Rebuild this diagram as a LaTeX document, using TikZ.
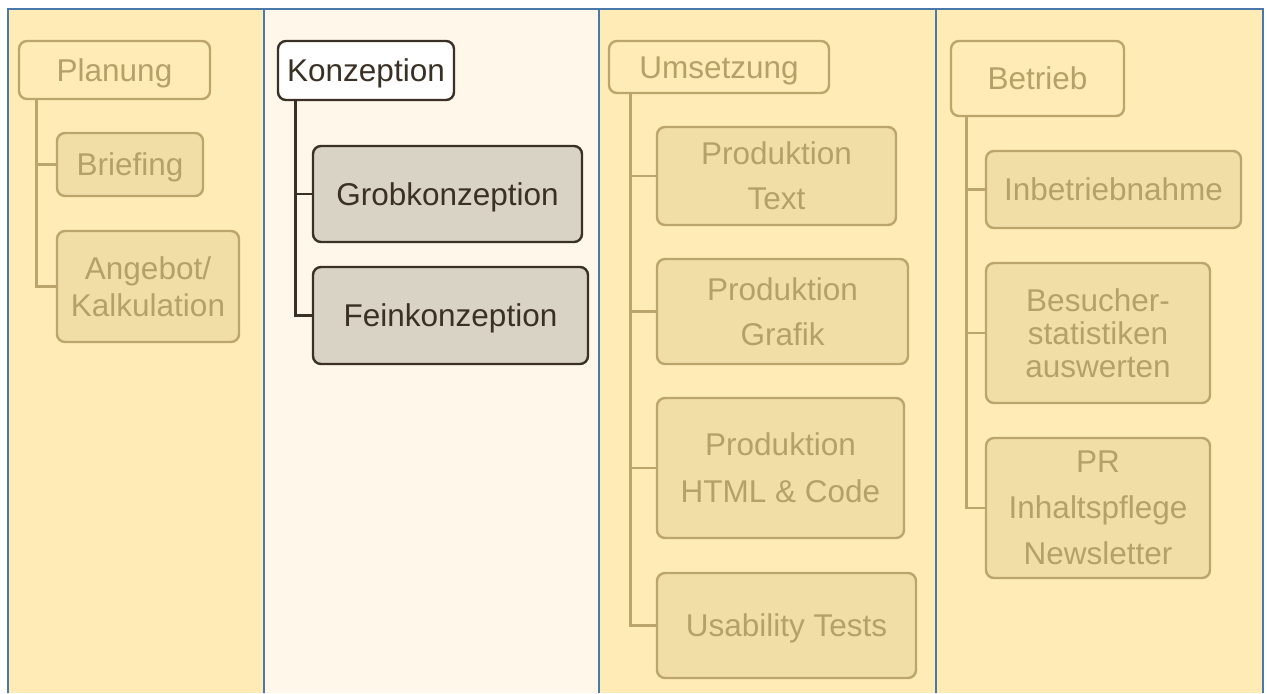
\documentclass[tikz,border=0pt]{standalone}
\usepackage{fontspec}
\setmainfont{Liberation Sans}
\usetikzlibrary{positioning}

\definecolor{colbg}{HTML}{FFEBB5}
\definecolor{colact}{HTML}{FFF8EA}
\definecolor{frameblue}{HTML}{4A78AA}
\definecolor{fadefill}{HTML}{F1DEA7}
\definecolor{fadeline}{HTML}{BBA56C}
\definecolor{fadetext}{HTML}{B5A06A}
\definecolor{darkline}{HTML}{3A3124}
\definecolor{actfill}{HTML}{D9D3C6}

\begin{document}
\begin{tikzpicture}[x=0.5pt, y=-0.5pt,
        phase/.style={draw=fadeline, line width=1.2pt, rounded corners=4pt, text=fadetext, inner sep=0pt, align=center},
        task/.style={phase, fill=fadefill},
        active/.style={draw=darkline, line width=1.2pt, rounded corners=4pt, text=darkline, inner sep=0pt, align=center},
        lead/.style={font=\fontsize{15.75}{#1}\selectfont},
        lead/.default=18,
        oneline/.style={lead, text height=11.4pt, text depth=0pt},
        tree/.style={draw=fadeline, line width=1.4pt},
        acttree/.style={draw=darkline, line width=1.4pt}
    ]
        \useasboundingbox (0,0) rectangle (1267,693);
        \fill[white] (0,0) rectangle (1267,693);

        % Spalten
        \fill[colbg] (8,9) rectangle (264,693);
        \fill[colact] (264,9) rectangle (599,693);
        \fill[colbg] (599,9) rectangle (936,693);
        \fill[colbg] (936,9) rectangle (1263,693);
        \draw[frameblue, line width=1pt] (8,693) -- (8,9) -- (1263,9) -- (1263,693);
        \draw[frameblue, line width=1pt] (264,9) -- (264,693);
        \draw[frameblue, line width=1pt] (599,9) -- (599,693);
        \draw[frameblue, line width=1pt] (936,9) -- (936,693);

        % Planung
        \node[phase, oneline, minimum width=95.5pt, minimum height=29pt] (plan) at (114.5,70) {Planung};
        \node[task, oneline, minimum width=73pt, minimum height=31.5pt] (brief) at (130,164.5) {Briefing};
        \node[task, lead=18.5, minimum width=91pt, minimum height=55.5pt] (angebot) at (148,286.5) {Angebot/\\Kalkulation};
        \draw[tree] ([xshift=9.5pt]plan.south west) |- (brief.west);
        \draw[tree] ([xshift=9.5pt]plan.south west) |- (angebot.west);

        % Konzeption
        \node[active, oneline, fill=white, minimum width=88pt, minimum height=29.5pt] (konz) at (366,70.5) {Konzeption};
        \node[active, oneline, fill=actfill, minimum width=134.5pt, minimum height=48pt] (grob) at (447.5,194) {Grobkonzeption};
        \node[active, oneline, fill=actfill, minimum width=137.5pt, minimum height=48.5pt] (fein) at (450.5,315.5) {Feinkonzeption};
        \draw[acttree] ([xshift=9.5pt]konz.south west) |- (grob.west);
        \draw[acttree] ([xshift=9.5pt]konz.south west) |- (fein.west);

        % Umsetzung
        \node[phase, oneline, minimum width=110pt, minimum height=26pt] (ums) at (719,67) {Umsetzung};
        \node[task, lead=22.5, minimum width=119.5pt, minimum height=49pt] (ptext) at (776.5,176) {Produktion\\Text};
        \node[task, lead=22.5, minimum width=125.5pt, minimum height=52.5pt] (pgrafik) at (782.5,311.5) {Produktion\\Grafik};
        \node[task, lead=23.5, minimum width=123.5pt, minimum height=70pt] (phtml) at (780.5,468) {Produktion\\HTML \& Code};
        \node[task, oneline, minimum width=129.5pt, minimum height=52.5pt] (usab) at (786.5,625.5) {Usability Tests};
        \draw[tree] ([xshift=11.5pt]ums.south west) |- (ptext.west);
        \draw[tree] ([xshift=11.5pt]ums.south west) |- (pgrafik.west);
        \draw[tree] ([xshift=11.5pt]ums.south west) |- (phtml.west);
        \draw[tree] ([xshift=11.5pt]ums.south west) |- (usab.west);

        % Betrieb
        \node[phase, oneline, minimum width=86.5pt, minimum height=37.5pt] (betrieb) at (1037.5,78.5) {Betrieb};
        \node[task, oneline, minimum width=127.5pt, minimum height=38.5pt] (inbetr) at (1113.5,189.5) {Inbetriebnahme};
        \node[task, lead=16.5, minimum width=112pt, minimum height=70pt] (besucher) at (1098,333) {Besucher-\\statistiken\\auswerten};
        \node[task, lead=23, minimum width=112pt, minimum height=70pt] (pr) at (1098,508) {PR\\Inhaltspflege\\Newsletter};
        \draw[tree] ([xshift=8.5pt]betrieb.south west) |- (inbetr.west);
        \draw[tree] ([xshift=8.5pt]betrieb.south west) |- (besucher.west);
        \draw[tree] ([xshift=8.5pt]betrieb.south west) |- (pr.west);
    \end{tikzpicture}
\end{document}
